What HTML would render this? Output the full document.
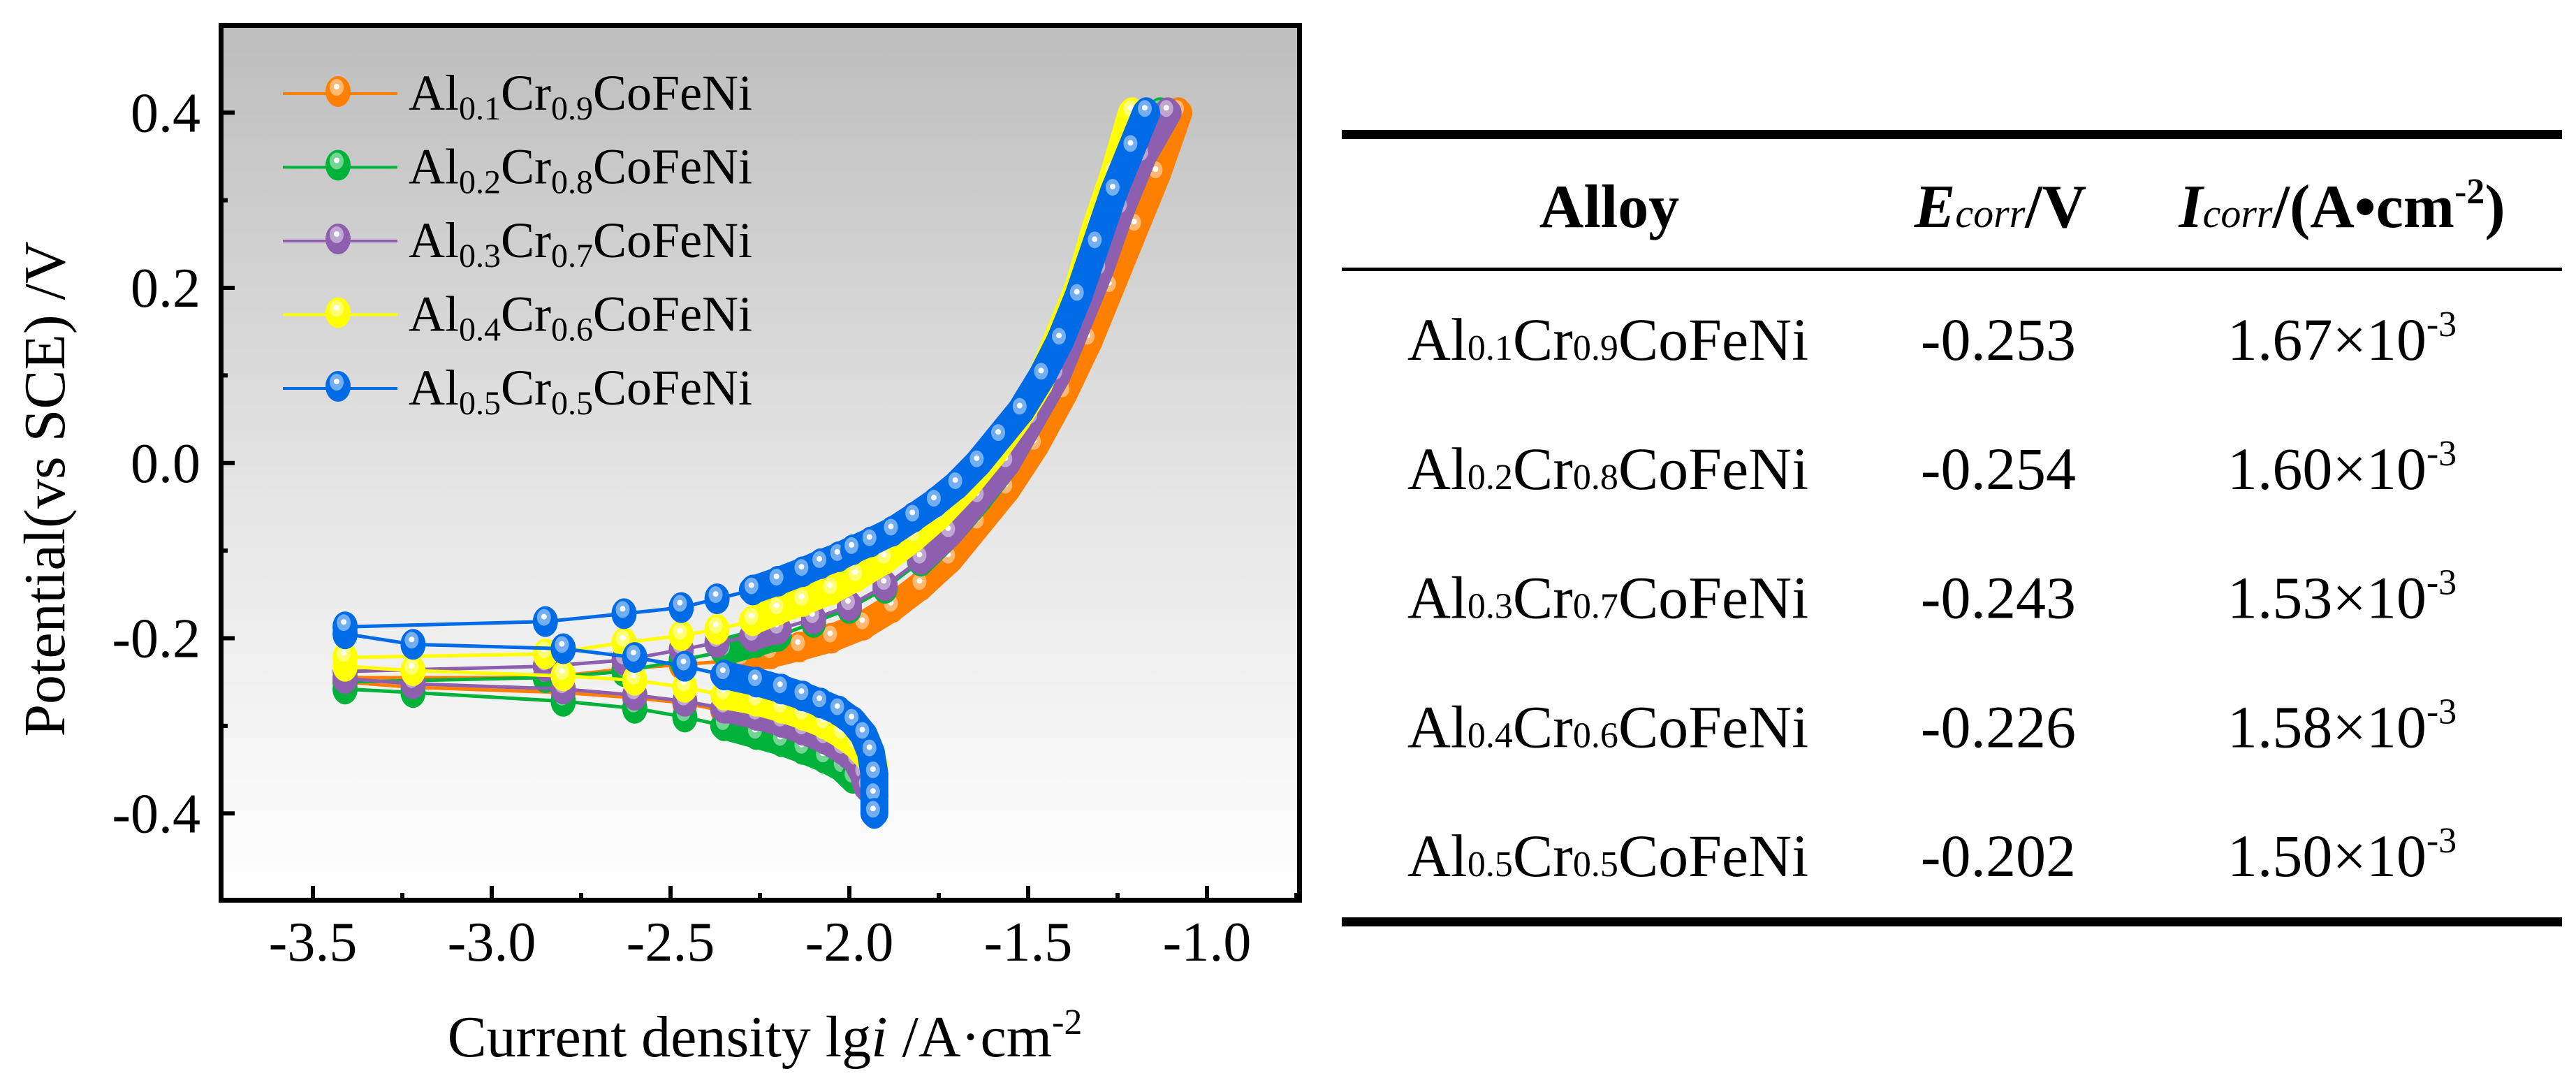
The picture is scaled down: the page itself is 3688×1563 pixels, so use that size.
<!DOCTYPE html>
<html><head><meta charset="utf-8"><style>
html,body{margin:0;padding:0;background:#fff;}
svg{display:block;}
svg text{font-family:"Liberation Serif","Times New Roman",serif;}
</style></head><body>
<svg id="fig" width="3688" height="1563" viewBox="0 0 3688 1563" xmlns="http://www.w3.org/2000/svg" font-family="Liberation Serif, serif">
<defs>
<linearGradient id="bg" x1="0" y1="0" x2="0" y2="1">
<stop offset="0" stop-color="#bdbdbd"/><stop offset="0.55" stop-color="#e6e6e6"/><stop offset="1" stop-color="#ffffff"/>
</linearGradient>
</defs>
<rect x="316" y="36" width="1544" height="1252" fill="url(#bg)"/>
<g id="series"></g>
<g id="axes"></g>
<rect x="316.5" y="36.5" width="1544" height="1252" fill="none" stroke="#000" stroke-width="7"/>
<g id="legend"></g>
<text font-family="Liberation Serif, serif" x="1095" y="1512" font-size="84" text-anchor="middle">Current density lg<tspan font-style="italic">i</tspan> /A·cm<tspan font-size="52" dy="-32">-2</tspan></text>
<text font-family="Liberation Serif, serif" transform="translate(92,700) rotate(-90)" font-size="84" text-anchor="middle">Potential(vs SCE) /V</text>

<g>
<rect x="1921" y="186" width="1747" height="13" fill="#000"/>
<rect x="1921" y="383" width="1747" height="5" fill="#000"/>
<rect x="1921" y="1313" width="1747" height="13" fill="#000"/>
<text font-family="Liberation Serif, serif" x="2304" y="325" font-size="88" font-weight="bold" text-anchor="middle">Alloy</text>
<text font-family="Liberation Serif, serif" x="2864" y="325" font-size="88" font-weight="bold" text-anchor="middle"><tspan font-style="italic">E</tspan><tspan font-style="italic" font-size="58" font-weight="normal">corr</tspan>/V</text>
<text font-family="Liberation Serif, serif" x="3353" y="325" font-size="88" font-weight="bold" text-anchor="middle"><tspan font-style="italic">I</tspan><tspan font-style="italic" font-size="58" font-weight="normal">corr</tspan>/(A•cm<tspan font-size="52" dy="-34">-2</tspan><tspan dy="34">)</tspan></text>
<g id="tbody"></g>
</g>
</svg>
<script>
const NS='http://www.w3.org/2000/svg';
// ---- chart data ----
const seriesNames=['Al0.1Cr0.9CoFeNi','Al0.2Cr0.8CoFeNi','Al0.3Cr0.7CoFeNi','Al0.4Cr0.6CoFeNi','Al0.5Cr0.5CoFeNi'];
const seriesColors=['#ff8000','#00b23a','#8d5fae','#ffff00','#006be6'];
const xTicks=[-3.5,-3.0,-2.5,-2.0,-1.5,-1.0];
const xTickLabels=['-3.5','-3.0','-2.5','-2.0','-1.5','-1.0'];
const yTicks=[-0.4,-0.2,0.0,0.2,0.4];
const yTickLabels=['-0.4','-0.2','0.0','0.2','0.4'];
const anodicX0=[-3.41,-2.85,-2.63,-2.47,-2.3,-2.22,-2.14,-2.05,-1.96,-1.88,-1.8,-1.72,-1.64,-1.56,-1.48,-1.4,-1.33,-1.27,-1.2,-1.14,-1.08];
const anodicY0=[-0.245,-0.245,-0.235,-0.23,-0.225,-0.218,-0.21,-0.2,-0.185,-0.165,-0.14,-0.11,-0.07,-0.03,0.02,0.08,0.14,0.2,0.27,0.33,0.4];
const cathX0=[-3.41,-3.22,-2.8,-2.6,-2.46,-2.35,-2.26,-2.19,-2.13,-2.07,-2.02,-1.98,-1.96];
const cathY0=[-0.25,-0.256,-0.262,-0.268,-0.274,-0.283,-0.29,-0.3,-0.308,-0.318,-0.33,-0.343,-0.357];
const anodicX1=[-3.41,-2.85,-2.63,-2.47,-2.35,-2.26,-2.2,-2.1,-2.0,-1.9,-1.8,-1.72,-1.64,-1.56,-1.49,-1.42,-1.36,-1.3,-1.24,-1.18,-1.13];
const anodicY1=[-0.25,-0.245,-0.238,-0.225,-0.215,-0.205,-0.198,-0.182,-0.166,-0.143,-0.112,-0.08,-0.042,0.0,0.05,0.1,0.16,0.22,0.29,0.35,0.4];
const cathX1=[-3.41,-3.22,-2.8,-2.6,-2.46,-2.35,-2.26,-2.19,-2.13,-2.07,-2.02,-1.99];
const cathY1=[-0.258,-0.262,-0.272,-0.28,-0.29,-0.3,-0.31,-0.318,-0.327,-0.337,-0.348,-0.36];
const anodicX2=[-3.41,-2.85,-2.63,-2.47,-2.37,-2.27,-2.2,-2.1,-2.0,-1.9,-1.8,-1.72,-1.64,-1.56,-1.49,-1.42,-1.36,-1.3,-1.24,-1.18,-1.11];
const anodicY2=[-0.238,-0.232,-0.225,-0.213,-0.205,-0.198,-0.19,-0.178,-0.163,-0.14,-0.11,-0.08,-0.04,0.0,0.05,0.1,0.16,0.22,0.29,0.35,0.4];
const cathX2=[-3.41,-3.22,-2.8,-2.6,-2.46,-2.35,-2.26,-2.19,-2.13,-2.07,-2.02,-1.98,-1.96,-1.95];
const cathY2=[-0.246,-0.252,-0.258,-0.265,-0.272,-0.28,-0.288,-0.296,-0.305,-0.315,-0.327,-0.34,-0.355,-0.37];
const anodicX3=[-3.41,-2.85,-2.63,-2.47,-2.37,-2.27,-2.2,-2.13,-2.05,-1.98,-1.9,-1.82,-1.75,-1.68,-1.6,-1.53,-1.47,-1.41,-1.36,-1.31,-1.26,-1.21];
const anodicY3=[-0.222,-0.218,-0.205,-0.197,-0.19,-0.18,-0.168,-0.158,-0.145,-0.13,-0.11,-0.085,-0.06,-0.03,0.01,0.05,0.09,0.15,0.2,0.27,0.33,0.4];
const cathX3=[-3.41,-3.22,-2.8,-2.6,-2.46,-2.35,-2.26,-2.19,-2.13,-2.07,-2.02,-1.98,-1.95,-1.93];
const cathY3=[-0.232,-0.237,-0.243,-0.248,-0.256,-0.265,-0.272,-0.28,-0.288,-0.298,-0.31,-0.322,-0.335,-0.345];
const anodicX4=[-3.41,-2.85,-2.63,-2.47,-2.37,-2.27,-2.2,-2.13,-2.08,-2.03,-1.99,-1.94,-1.88,-1.82,-1.76,-1.7,-1.64,-1.58,-1.52,-1.46,-1.41,-1.36,-1.31,-1.26,-1.21,-1.17];
const anodicY4=[-0.187,-0.181,-0.172,-0.165,-0.155,-0.145,-0.135,-0.124,-0.115,-0.107,-0.099,-0.09,-0.078,-0.062,-0.045,-0.025,0.0,0.03,0.06,0.1,0.14,0.19,0.25,0.31,0.36,0.4];
const cathX4=[-3.41,-3.22,-2.8,-2.6,-2.46,-2.35,-2.26,-2.19,-2.13,-2.08,-2.03,-1.99,-1.96,-1.94,-1.93,-1.93,-1.93];
const cathY4=[-0.195,-0.207,-0.212,-0.222,-0.232,-0.242,-0.25,-0.258,-0.266,-0.274,-0.283,-0.295,-0.31,-0.33,-0.355,-0.38,-0.40];
const anodicXs=[anodicX0,anodicX1,anodicX2,anodicX3,anodicX4];
const anodicYs=[anodicY0,anodicY1,anodicY2,anodicY3,anodicY4];
const cathXs=[cathX0,cathX1,cathX2,cathX3,cathX4];
const cathYs=[cathY0,cathY1,cathY2,cathY3,cathY4];
// table data
const tableAlloys=[['0.1','0.9'],['0.2','0.8'],['0.3','0.7'],['0.4','0.6'],['0.5','0.5']];
const tableEcorr=['-0.253','-0.254','-0.243','-0.226','-0.202'];
const tableIcorr=['1.67','1.60','1.53','1.58','1.50'];

// ---- axes ----
const X0=316,X1=1860,Y0=36,Y1=1288;
const xMin=-3.7578,xMax=-0.7422,yMin=-0.4987,yMax=0.4999;
const FF='Liberation Serif, serif';
function sx(v){return X0+(v-xMin)/(xMax-xMin)*(X1-X0);}
function sy(v){return Y1-(v-yMin)/(yMax-yMin)*(Y1-Y0);}
function mk(tag,attrs,parent){const e=document.createElementNS(NS,tag);for(const k in attrs)e.setAttribute(k,attrs[k]);parent.appendChild(e);return e;}
function light(c,f){const n=parseInt(c.slice(1),16);let r=n>>16,g=(n>>8)&255,b=n&255;r=Math.round(r+(255-r)*f);g=Math.round(g+(255-g)*f);b=Math.round(b+(255-b)*f);return `rgb(${r},${g},${b})`;}

const axes=document.getElementById('axes');
xTicks.forEach((t,i)=>{
  const l=mk('line',{x1:sx(t),x2:sx(t),y1:Y1,y2:Y1-20,stroke:'#000','stroke-width':6},axes);
  
  
  const m=mk('line',{x1:sx(t+0.25),x2:sx(t+0.25),y1:Y1,y2:Y1-10,stroke:'#000','stroke-width':6},axes);
  
  
  const tx=mk('text',{x:sx(t),y:1375,'font-size':80,'text-anchor':'middle','font-family':FF},axes);
  tx.textContent=xTickLabels[i];
  
  
});
yTicks.forEach((t,i)=>{
  const l=mk('line',{x1:X0,x2:X0+20,y1:sy(t),y2:sy(t),stroke:'#000','stroke-width':6},axes);
  
  
  const m=mk('line',{x1:X0,x2:X0+10,y1:sy(t+0.1),y2:sy(t+0.1),stroke:'#000','stroke-width':6},axes);
  
  
  const tx=mk('text',{x:287,y:sy(t)+27,'font-size':80,'text-anchor':'end','font-family':FF},axes);
  tx.textContent=yTickLabels[i];
  
  
});

// ---- series ----
const sg=document.getElementById('series');
function marker(px,py,c,parent){
  const g=mk('g',{},parent);
  
  
  mk('ellipse',{cx:px,cy:py,rx:18,ry:22,fill:c},g);
  mk('ellipse',{cx:px-2,cy:py-6,rx:10,ry:12,fill:light(c,0.45)},g);
  mk('circle',{cx:px-2,cy:py-7,r:4,fill:'#fff'},g);
}
function drawBranch(xs,ys,c,g){
  for(let i=1;i<xs.length;i++){
    const a=[sx(xs[i-1]),sy(ys[i-1])],b=[sx(xs[i]),sy(ys[i])];
    const dx=Math.abs(b[0]-a[0]);
    const ln=mk('line',{x1:a[0],y1:a[1],x2:b[0],y2:b[1],stroke:c,'stroke-width':dx<50?40:5,'stroke-linecap':'round'},g);
    
    
  }
  for(let i=0;i<xs.length;i++)marker(sx(xs[i]),sy(ys[i]),c,g);
}
for(let s=0;s<5;s++){
  const g=mk('g',{},sg);
  
  
  drawBranch(cathXs[s],cathYs[s],seriesColors[s],g);
  drawBranch(anodicXs[s],anodicYs[s],seriesColors[s],g);
}

// ---- legend ----
const lg=document.getElementById('legend');
for(let s=0;s<5;s++){
  const y=131+s*105.5;
  const e=mk('g',{},lg);
  
  
  mk('line',{x1:405,x2:569,y1:y+3,y2:y+3,stroke:seriesColors[s],'stroke-width':4},e);
  marker(484,y,seriesColors[s],e);
  const t=mk('text',{x:585,y:y+26,'font-size':72,'font-family':FF},e);
  const p=tableAlloys[s];
  t.innerHTML=`Al<tspan font-size="48" dy="14">${p[0]}</tspan><tspan dy="-14">Cr</tspan><tspan font-size="48" dy="14">${p[1]}</tspan><tspan dy="-14">CoFeNi</tspan>`;
}

// ---- table body ----
const tb=document.getElementById('tbody');
for(let r=0;r<5;r++){
  const y=515+r*184.75;
  const a=mk('text',{x:2302,y:y,'font-size':86,'text-anchor':'middle','font-family':FF},tb);
  
  
  a.innerHTML=`Al<tspan font-size="52">${tableAlloys[r][0]}</tspan>Cr<tspan font-size="52">${tableAlloys[r][1]}</tspan>CoFeNi`;
  const e=mk('text',{x:2861,y:y,'font-size':86,'text-anchor':'middle','font-family':FF},tb);
  
  
  e.textContent=tableEcorr[r];
  const ic=mk('text',{x:3353,y:y,'font-size':86,'text-anchor':'middle','font-family':FF},tb);
  
  
  ic.innerHTML=`${tableIcorr[r]}×10<tspan font-size="52" dy="-34">-3</tspan>`;
}
</script>
</body></html>
